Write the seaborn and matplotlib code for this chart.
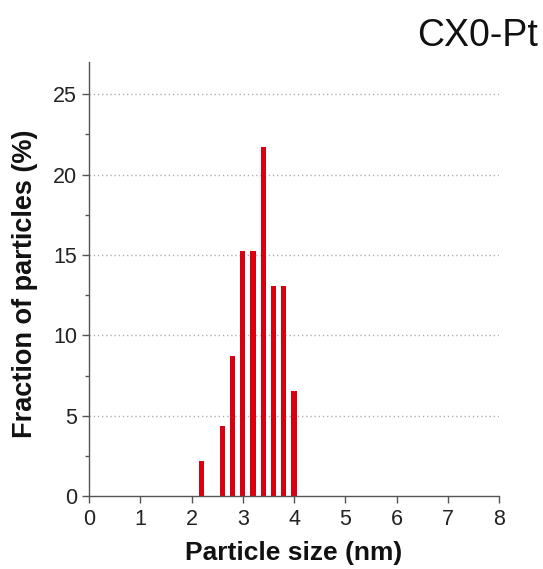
import matplotlib
matplotlib.use("Agg")
import matplotlib.pyplot as plt
import seaborn as sns
import pandas as pd
from matplotlib.ticker import MultipleLocator

sizes = [2.2, 2.6, 2.8, 3.0, 3.2, 3.4, 3.6, 3.8, 4.0]
fractions = [2.17, 4.35, 8.70, 15.22, 15.22, 21.74, 13.04, 13.04, 6.52]
title = "CX0-Pt"
xlabel = "Particle size (nm)"
ylabel = "Fraction of particles (%)"

sns.set_style("ticks")
plt.rcParams['font.family'] = ['Liberation Sans', 'DejaVu Sans']

df = pd.DataFrame({"size": sizes, "fraction": fractions})

fig = plt.figure(figsize=(5.43, 5.69), dpi=100)
ax = fig.add_axes([0.164, 0.128, 0.755, 0.763])

sns.barplot(data=df, x="size", y="fraction", native_scale=True, width=0.5,
            color="#d9000f", saturation=1, ax=ax, edgecolor="none")

ax.set_xlim(0, 8)
ax.set_ylim(0, 27)
ax.xaxis.set_major_locator(MultipleLocator(1))
ax.yaxis.set_major_locator(MultipleLocator(5))
ax.yaxis.set_minor_locator(MultipleLocator(2.5))
ax.tick_params(axis="both", which="major", direction="out", length=5, width=1,
               color="#555555", labelsize=15.5, labelcolor="#222222")
ax.tick_params(axis="x", which="major", pad=4)
ax.tick_params(axis="y", which="minor", direction="out", length=3, width=1, color="#555555")
for s in ["top", "right"]:
    ax.spines[s].set_visible(False)
for s in ["left", "bottom"]:
    ax.spines[s].set_color("#555555")
    ax.spines[s].set_linewidth(1)

for yv in [5, 10, 15, 20, 25]:
    ax.axhline(yv, color="#b0b0b0", linestyle=(0, (1, 2)), linewidth=1, zorder=0)

ax.set_xlabel(xlabel, fontsize=19, fontweight="bold", color="#111111", labelpad=8)
ax.set_ylabel(ylabel, fontsize=19.5, fontweight="bold", color="#111111", labelpad=8)
ax.yaxis.set_label_coords(-0.125, 0.49)
fig.text(0.99, 0.937, title, ha="right", va="center", fontsize=27, color="#111111")

fig.savefig("out.png", dpi=100)
